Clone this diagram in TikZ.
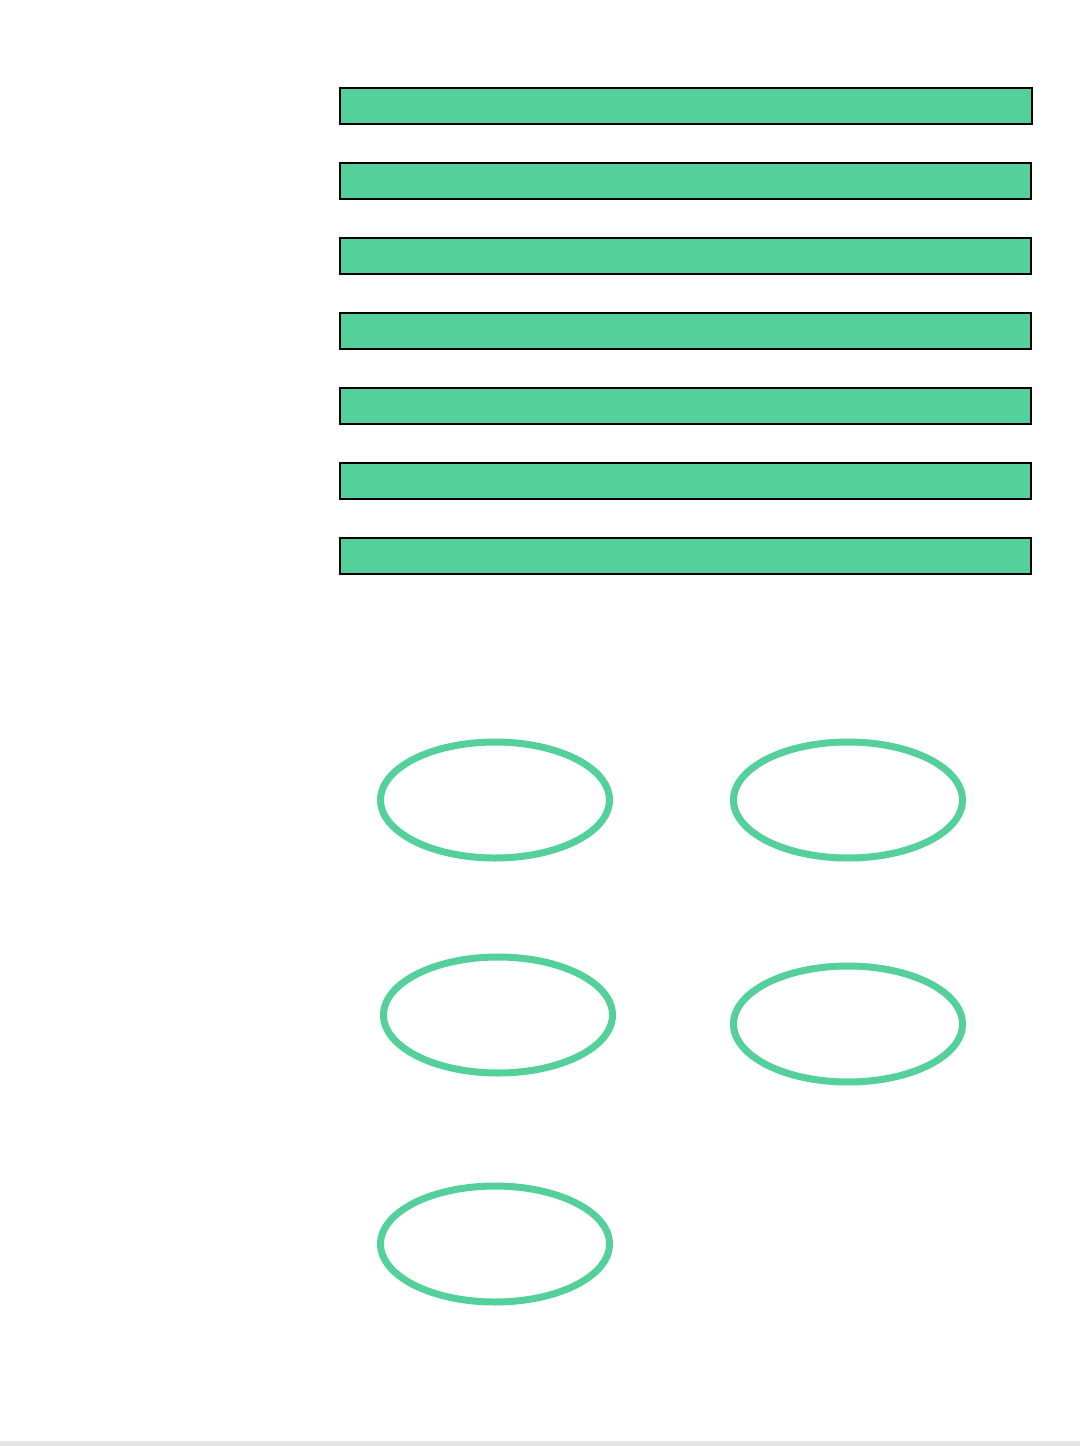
\documentclass[tikz,border=0pt]{standalone}
\usetikzlibrary{shapes.geometric}
\definecolor{barfill}{HTML}{54D19A}
\definecolor{ringcol}{HTML}{54D19A}
\definecolor{stripgray}{HTML}{E6E6E6}
\begin{document}
\begin{tikzpicture}[x=1pt,y=-1pt,
  barbox/.style={draw=black,line width=2pt,fill=barfill,rectangle,inner sep=0pt,minimum height=36pt,anchor=north west},
  ring/.style={draw=ringcol,line width=7pt,ellipse,inner sep=0pt,minimum width=229pt,minimum height=116pt}]
\useasboundingbox (0,0) rectangle (1080,1446);
\fill[white] (0,0) rectangle (1080,1446);
\fill[stripgray] (0,1441) rectangle (1080,1446);
\node[barbox,minimum width=692pt] (b1) at (339,87) {};
\node[barbox,minimum width=691pt] (b2) at (339,162) {};
\node[barbox,minimum width=691pt] (b3) at (339,237) {};
\node[barbox,minimum width=691pt] (b4) at (339,312) {};
\node[barbox,minimum width=691pt] (b5) at (339,387) {};
\node[barbox,minimum width=691pt] (b6) at (339,462) {};
\node[barbox,minimum width=691pt] (b7) at (339,537) {};
\node[ring] (e1) at (495,800) {};
\node[ring] (e2) at (848,800) {};
\node[ring] (e3) at (498,1015) {};
\node[ring] (e4) at (848,1024) {};
\node[ring] (e5) at (495,1244) {};
\end{tikzpicture}
\end{document}
